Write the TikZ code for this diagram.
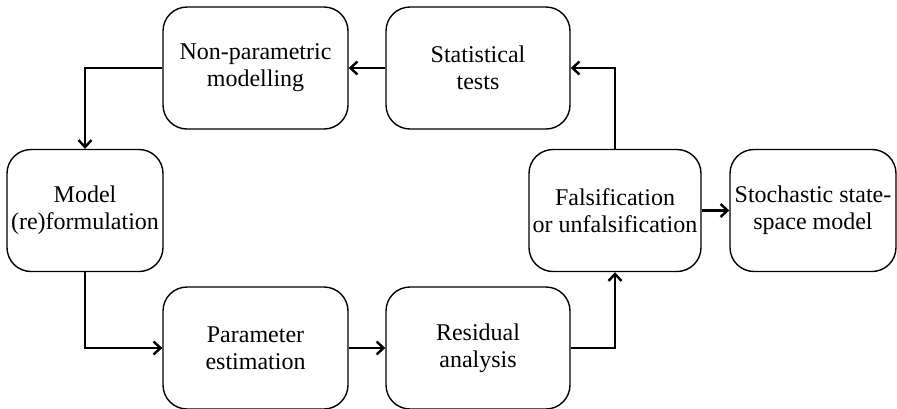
\documentclass[tikz,border=0pt]{standalone}
\usepackage{fontspec}
\setmainfont{Liberation Serif}
\usetikzlibrary{arrows.meta}
\tikzset{
  box/.style={draw, line width=1.4pt, rounded corners=24pt, minimum width=#1, minimum height=122pt, align=center, inner sep=0pt, font=\fontsize{24}{27}\selectfont},
  conn/.style={line width=2.6pt, -{Straight Barb[length=7pt, width=13pt, line width=2.4pt]}}
}
\begin{document}
\begin{tikzpicture}[x=1pt, y=-1pt]
\useasboundingbox (0,0) rectangle (897,408);
\clip (0,0) rectangle (897,408);
\node[box=185pt] (nonpar) at (255.5,68) {Non-parametric\\modelling};
\node[box=184pt] (stat) at (478,68) {Statistical\\tests};
\node[box=156pt] (model) at (85,210.5) {Model\\(re)formulation};
\node[box=172pt] (fals) at (615,210.5) {Falsification\\or unfalsification};
\node[box=166pt] (stoch) at (813,210.5) {Stochastic state-\\space model};
\node[box=185pt] (param) at (255.5,348) {Parameter\\estimation};
\node[box=184pt] (resid) at (478,348) {Residual\\analysis};
\draw[conn] (stat.west) -- (nonpar.east);
\draw[conn] (nonpar.west) -| (model.north);
\draw[conn] (model.south) |- (param.west);
\draw[conn] (param.east) -- (resid.west);
\draw[conn] (resid.east) -| (fals.south);
\draw[conn] (fals.north) |- (stat.east);
\draw[conn] (fals.east) -- (stoch.west);
\end{tikzpicture}
\end{document}
